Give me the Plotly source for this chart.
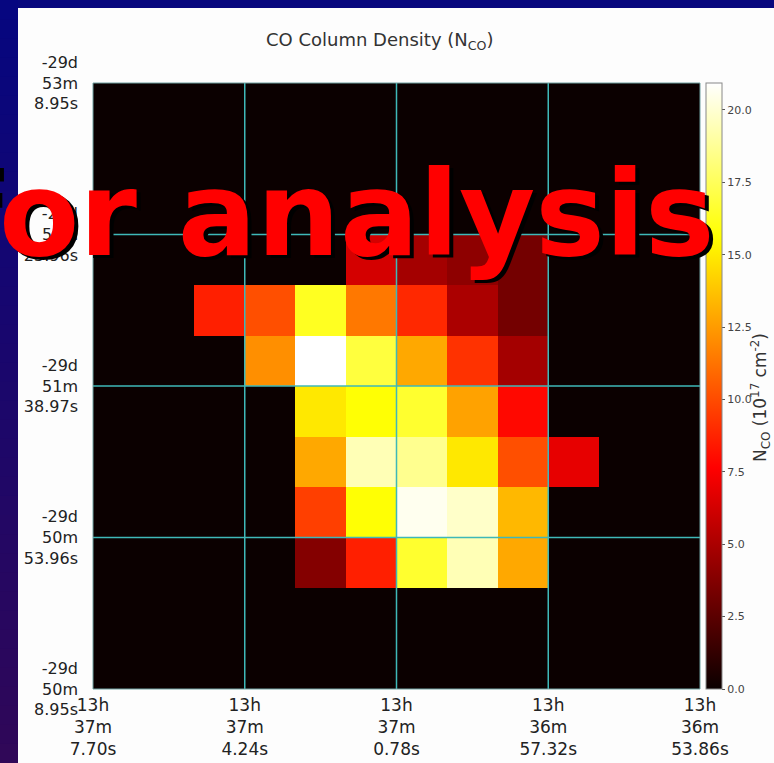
import plotly.graph_objects as go

# CO column density map, 12 x 12 pixels, units of 1e17 cm^-2 (row 0 = north / top)
co_density = [
    [0, 0, 0, 0, 0, 0, 0, 0, 0, 0, 0, 0],
    [0, 0, 0, 0, 0, 0, 0, 0, 0, 0, 0, 0],
    [0, 0, 0, 0, 0, 0, 0, 0, 0, 0, 0, 0],
    [0, 0, 0, 0, 0, 6.3, 4.8, 4.1, 3.3, 0, 0, 0],
    [0, 0, 8.6, 10.1, 16.3, 11.4, 8.9, 5.0, 3.3, 0, 0, 0],
    [0, 0, 0, 12.1, 20.93, 16.9, 12.9, 9.2, 4.8, 0, 0, 0],
    [0, 0, 0, 0, 14.9, 15.7, 16.6, 12.7, 7.9, 0, 0, 0],
    [0, 0, 0, 0, 12.9, 19.4, 18.6, 14.9, 10.1, 6.9, 0, 0],
    [0, 0, 0, 0, 9.6, 15.7, 20.6, 19.8, 13.4, 0, 0, 0],
    [0, 0, 0, 0, 3.8, 8.6, 16.6, 19.4, 12.9, 0, 0, 0],
    [0, 0, 0, 0, 0, 0, 0, 0, 0, 0, 0, 0],
    [0, 0, 0, 0, 0, 0, 0, 0, 0, 0, 0, 0],
]
pixel_index = list(range(12))

# Sky coordinates at the grid lines (every 3 pixels)
ra_ticks = [-0.5, 2.5, 5.5, 8.5, 11.5]
ra_labels = ["13h<br>37m<br>7.70s", "13h<br>37m<br>4.24s", "13h<br>37m<br>0.78s",
             "13h<br>36m<br>57.32s", "13h<br>36m<br>53.86s"]
dec_ticks = [-0.5, 2.5, 5.5, 8.5, 11.5]
dec_labels = ["-29d<br>53m<br>8.95s", "-29d<br>52m<br>23.96s", "-29d<br>51m<br>38.97s",
              "-29d<br>50m<br>53.96s", "-29d<br>50m<br>8.95s"]

cbar_ticks = [0, 2.5, 5, 7.5, 10, 12.5, 15, 17.5, 20]
z_max = 20.93

W, H = 774, 763
ML, MR, MT, MB = 93, 74, 83, 74


def px_x(px):
    return (px - ML) / (W - ML - MR)


def px_y(py):
    return (H - MB - py) / (H - MT - MB)


# matplotlib-style "hot" colormap
hot = [
    [0.0, "rgb(11,0,0)"],
    [0.365079, "rgb(255,0,0)"],
    [0.746032, "rgb(255,255,0)"],
    [1.0, "rgb(255,255,255)"],
]

fig = go.Figure()
fig.add_trace(go.Heatmap(
    z=co_density, x=pixel_index, y=pixel_index,
    colorscale=hot, zmin=0, zmax=z_max, hoverinfo="skip",
    colorbar=dict(
        x=px_x(706), xanchor="left", xpad=0, ypad=0,
        y=0.5, yanchor="middle", len=1, lenmode="fraction",
        thickness=16, outlinecolor="#888888", outlinewidth=1,
        tickmode="array", tickvals=cbar_ticks,
        ticktext=[f"{v:.1f}" for v in cbar_ticks],
        ticks="outside", ticklen=3, tickcolor="#555555",
        tickfont=dict(family="DejaVu Sans", size=11, color="#444444"),
    ),
))

shapes = []
# slide background: white panel with a blue/purple gradient margin
n_bands = 40
for i in range(n_bands):
    t = i / (n_bands - 1)
    r = int(6 + (48 - 6) * t)
    g = int(6 + (8 - 6) * t)
    b = int(128 + (88 - 128) * t)
    y_top = H * i / n_bands
    y_bot = H * (i + 1) / n_bands + 1
    shapes.append(dict(type="rect", xref="paper", yref="paper", layer="below",
                       x0=px_x(0), x1=px_x(18), y0=px_y(y_bot), y1=px_y(y_top),
                       fillcolor=f"rgb({r},{g},{b})", line_width=0))
shapes.append(dict(type="rect", xref="paper", yref="paper", layer="below",
                   x0=px_x(18), x1=px_x(W + 2), y0=px_y(H + 2), y1=px_y(8),
                   fillcolor="#fdfdfd", line_width=0))

# cyan coordinate grid on top of the image
for v in ra_ticks[1:-1]:
    shapes.append(dict(type="line", xref="x", yref="paper", layer="above",
                       x0=v, x1=v, y0=0, y1=1,
                       line=dict(color="#3fb8b8", width=1.5)))
for v in dec_ticks[1:-1]:
    shapes.append(dict(type="line", xref="paper", yref="y", layer="above",
                       x0=0, x1=1, y0=v, y1=v,
                       line=dict(color="#3fb8b8", width=1.5)))
shapes.append(dict(type="rect", xref="paper", yref="paper", layer="above",
                   x0=0, x1=1, y0=0, y1=1,
                   line=dict(color="#6f9f9f", width=1)))

annotations = [
    dict(text="CO Column Density (N<sub>CO</sub>)", xref="paper", yref="paper",
         x=px_x(380), y=px_y(41), xanchor="center", yanchor="middle",
         showarrow=False, font=dict(family="DejaVu Sans", size=18, color="#333333")),
    dict(text="N<sub>CO</sub> (10<sup>17</sup> cm<sup>-2</sup>)", xref="paper", yref="paper",
         x=px_x(760), y=px_y(398), xanchor="center", yanchor="middle", textangle=-90,
         showarrow=False, font=dict(family="DejaVu Sans", size=17, color="#333333")),
]

# overlay caption with a drop shadow
caption = "for analysis"
for dx, dy, col in [(4, 4, "black"), (0, 0, "#ff0000")]:
    annotations.append(dict(
        text=f"<b>{caption}</b>", xref="paper", yref="paper",
        x=px_x(331 + dx), y=px_y(214 + dy), xanchor="center", yanchor="middle",
        showarrow=False,
        font=dict(family="DejaVu Sans", size=117, color=col),
    ))

fig.update_layout(
    width=W, height=H,
    margin=dict(l=ML, r=MR, t=MT, b=MB, pad=0, autoexpand=False),
    paper_bgcolor="rgb(8,8,126)",
    plot_bgcolor="rgb(11,0,0)",
    shapes=shapes,
    annotations=annotations,
    showlegend=False,
    xaxis=dict(range=[-0.5, 11.5], tickmode="array", tickvals=ra_ticks, ticktext=ra_labels,
               showgrid=False, zeroline=False, ticks="", ticklabelstandoff=4,
               tickfont=dict(family="DejaVu Sans", size=17, color="#222222")),
    yaxis=dict(range=[11.5, -0.5], tickmode="array", tickvals=dec_ticks, ticktext=dec_labels,
               showgrid=False, zeroline=False, ticks="", ticklabelstandoff=14,
               tickfont=dict(family="DejaVu Sans", size=16, color="#222222")),
)

fig.write_html("out.html")
